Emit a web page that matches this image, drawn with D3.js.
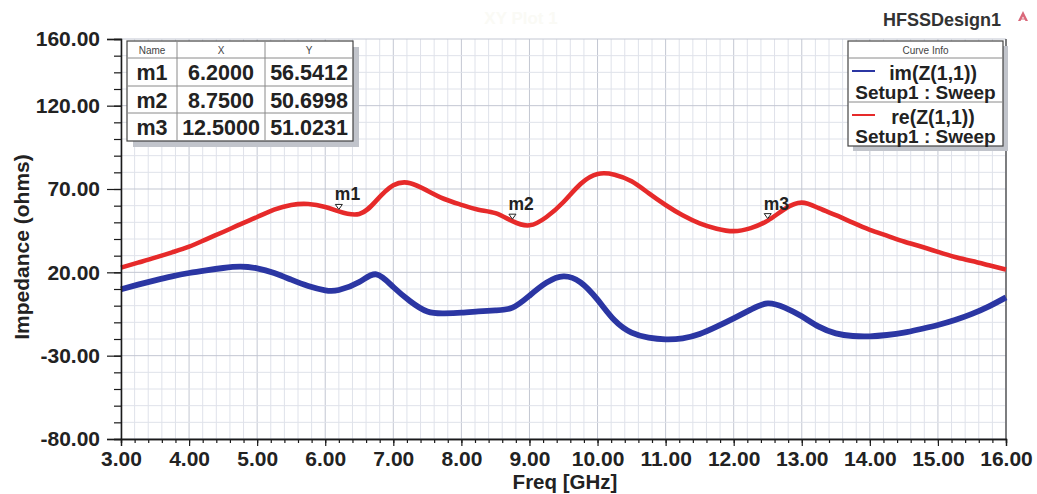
<!DOCTYPE html>
<html>
<head>
<meta charset="utf-8">
<script src="https://cdn.jsdelivr.net/npm/d3@7"></script>
<style>
  body { margin: 0; background: #ffffff; }
  svg { display: block; }
  text { font-family: "Liberation Sans", Arial, Helvetica, sans-serif; }
</style>
</head>
<body>
<svg id="chart" width="1037" height="494"></svg>
<script>
// Frequency sweep (GHz)
const freq = [3.00, 3.25, 3.50, 3.75, 4.00, 4.25, 4.50, 4.75, 5.00, 5.25, 5.50, 5.75, 6.00, 6.20,
  6.50, 6.75, 7.00, 7.25, 7.50, 7.75, 8.00, 8.25, 8.50, 8.75, 9.00, 9.25, 9.50, 9.75, 10.00,
  10.25, 10.50, 10.75, 11.00, 11.25, 11.50, 11.75, 12.00, 12.25, 12.50, 12.75, 13.00, 13.25,
  13.50, 13.75, 14.00, 14.25, 14.50, 14.75, 15.00, 15.25, 15.50, 15.75, 16.00];

// re(Z(1,1)) in ohms
const reZ = [22.8, 25.8, 28.8, 32.0, 35.4, 39.8, 44.2, 48.8, 53.2, 57.6, 60.4, 61.0, 59.2, 56.5412,
  55.0, 63.0, 72.2, 73.5, 69.0, 64.0, 60.5, 57.6, 55.5, 50.6998, 48.2, 53.2, 62.2, 73.0, 79.0,
  78.6, 74.6, 67.5, 60.4, 54.2, 49.4, 46.2, 44.7, 46.5, 51.0231, 58.0, 61.8, 58.5,
  54.3, 49.8, 45.5, 42.0, 38.5, 35.5, 32.3, 29.2, 26.8, 24.2, 21.6];

// im(Z(1,1)) in ohms
const imZ = [9.8, 12.6, 15.2, 17.6, 19.6, 21.2, 22.6, 23.4, 22.4, 19.6, 15.6, 11.8, 9.2, 9.4,
  14.2, 18.8, 11.2, 2.6, -3.5, -4.6, -4.2, -3.4, -2.8, -1.2, 6.0, 13.8, 17.6, 14.0, 3.6,
  -8.8, -16.2, -19.2, -20.2, -19.6, -17.0, -12.6, -7.6, -2.4, 1.4, -1.2, -6.4, -12.6,
  -16.6, -18.2, -18.4, -17.6, -16.2, -14.0, -11.6, -8.6, -4.9, -0.4, 5.0];

// Axis ticks
const xTicks = [3, 4, 5, 6, 7, 8, 9, 10, 11, 12, 13, 14, 15, 16];
const yTicks = [-80, -30, 20, 70, 120, 160];

// Markers placed on re(Z(1,1))
const markerNames = ["m1", "m2", "m3"];
const markerX = [6.2, 8.75, 12.5];
const markerY = [56.5412, 50.6998, 51.0231];

// Curve legend
const curveNames = ["im(Z(1,1))", "re(Z(1,1))"];
const curveSetups = ["Setup1 : Sweep", "Setup1 : Sweep"];
const curveColors = ["#2b36a3", "#e62a2a"];

const svg = d3.select("#chart");
const W = 1037, H = 494;
const plotL = 121, plotR = 1006, plotT = 39, plotB = 439;

svg.append("rect").attr("width", W).attr("height", H).attr("fill", "#ffffff");

const x = d3.scaleLinear().domain([3, 16]).range([plotL, plotR]);
const y = d3.scaleLinear().domain([-80, 160]).range([plotB, plotT]);

// Grid
const xMinor = d3.range(0, 66).map(i => +(3 + i * 0.2).toFixed(1));
const yMinor = d3.range(-80, 161, 10);
const grid = svg.append("g");
grid.selectAll("line.vx").data(xMinor).join("line")
  .attr("x1", d => x(d)).attr("x2", d => x(d))
  .attr("y1", plotT).attr("y2", plotB)
  .attr("stroke", d => Number.isInteger(d) ? "#c3c7d2" : "#dfe2ea")
  .attr("stroke-width", 1);
grid.selectAll("line.hy").data(yMinor).join("line")
  .attr("x1", plotL).attr("x2", plotR)
  .attr("y1", d => y(d)).attr("y2", d => y(d))
  .attr("stroke", d => yTicks.includes(d) ? "#c3c7d2" : "#dfe2ea")
  .attr("stroke-width", 1);

// Right border
svg.append("line").attr("x1", plotR).attr("x2", plotR).attr("y1", plotT).attr("y2", plotB)
  .attr("stroke", "#3a3a3a").attr("stroke-width", 1.2);

// Curves
const line = (vals) => d3.line()
  .x((d, i) => x(freq[i]))
  .y(d => y(d))
  .curve(d3.curveNatural)(vals);

svg.append("path").attr("d", line(imZ)).attr("fill", "none")
  .attr("stroke", curveColors[0]).attr("stroke-width", 5.8).attr("stroke-linejoin", "round");
svg.append("path").attr("d", line(reZ)).attr("fill", "none")
  .attr("stroke", curveColors[1]).attr("stroke-width", 4.6).attr("stroke-linejoin", "round");

// Axes
const axisStyle = g => {
  g.select(".domain").attr("stroke", "#1a1a1a").attr("stroke-width", 1.3);
  g.selectAll(".tick line").attr("stroke", "#1a1a1a").attr("stroke-width", 1.2);
  g.selectAll("text").attr("font-size", "21px").attr("font-weight", "bold").attr("fill", "#222");
};

svg.append("g").attr("transform", `translate(${plotL},0)`)
  .call(d3.axisLeft(y).tickValues(yMinor).tickSize(7).tickFormat(""))
  .call(axisStyle);
svg.append("g").attr("transform", `translate(${plotL},0)`)
  .call(d3.axisLeft(y).tickValues(yTicks).tickSize(14).tickPadding(7).tickFormat(d => d.toFixed(2)))
  .call(axisStyle);

svg.append("g").attr("transform", `translate(0,${plotB})`)
  .call(d3.axisBottom(x).tickValues(xMinor).tickSize(4).tickFormat(""))
  .call(axisStyle);
svg.append("g").attr("transform", `translate(0,${plotB})`)
  .call(d3.axisBottom(x).tickValues(xTicks).tickSize(7).tickPadding(5).tickFormat(d => d.toFixed(2)))
  .call(axisStyle);

// Axis titles
svg.append("text").attr("x", 565).attr("y", 489).attr("text-anchor", "middle")
  .attr("font-size", "20.5px").attr("font-weight", "bold").attr("fill", "#222").text("Freq [GHz]");
svg.append("text").attr("transform", "translate(29,247) rotate(-90)").attr("text-anchor", "middle")
  .attr("font-size", "21px").attr("font-weight", "bold").attr("fill", "#222").text("Impedance (ohms)");

// Plot title and design name
svg.append("text").attr("x", 521).attr("y", 24).attr("text-anchor", "middle")
  .attr("font-size", "17px").attr("font-weight", "bold").attr("fill", "#fafaf5").text("XY Plot 1");
svg.append("text").attr("x", 1001).attr("y", 26).attr("text-anchor", "end")
  .attr("font-size", "18px").attr("font-weight", "bold").attr("fill", "#333").text("HFSSDesign1");
// small application logo
svg.append("path").attr("d", "M1023,11 L1028,21 L1025.5,21 L1023,16.5 L1020.5,21 L1018,21 Z")
  .attr("fill", "#d9687a");
svg.append("line").attr("x1", 1020).attr("x2", 1026).attr("y1", 19).attr("y2", 19)
  .attr("stroke", "#d9687a").attr("stroke-width", 1);

// Markers on the re curve
const mk = svg.append("g");
markerX.forEach((mx, i) => {
  const px = x(mx), py = y(markerY[i]) - 2;
  mk.append("path")
    .attr("d", `M${px - 3.5},${py - 5} L${px + 3.5},${py - 5} L${px},${py} Z`)
    .attr("fill", "#ffffff").attr("stroke", "#222").attr("stroke-width", 1);
  mk.append("text").attr("x", px - 4).attr("y", py - 9)
    .attr("font-size", "17.5px").attr("font-weight", "bold").attr("fill", "#222")
    .text(markerNames[i]);
});

// Marker table
const tbl = svg.append("g");
const colX = [127, 177, 265, 353];
const rowY = [41, 58, 86, 113, 141];
tbl.append("rect").attr("x", colX[0] + 6).attr("y", rowY[0] + 6)
  .attr("width", colX[3] - colX[0]).attr("height", rowY[4] - rowY[0]).attr("fill", "#c1c4cb");
tbl.append("rect").attr("x", colX[0]).attr("y", rowY[0])
  .attr("width", colX[3] - colX[0]).attr("height", rowY[4] - rowY[0])
  .attr("fill", "#ffffff").attr("stroke", "#444").attr("stroke-width", 1.2);
colX.slice(1, 3).forEach(cx => tbl.append("line").attr("x1", cx).attr("x2", cx)
  .attr("y1", rowY[0]).attr("y2", rowY[4]).attr("stroke", "#8a8a8a"));
rowY.slice(1, 4).forEach(ry => tbl.append("line").attr("x1", colX[0]).attr("x2", colX[3])
  .attr("y1", ry).attr("y2", ry).attr("stroke", "#8a8a8a"));
["Name", "X", "Y"].forEach((h, j) => tbl.append("text")
  .attr("x", (colX[j] + colX[j + 1]) / 2).attr("y", rowY[0] + 12.5).attr("text-anchor", "middle")
  .attr("font-size", "10px").attr("fill", "#444").text(h));
markerNames.forEach((n, i) => {
  const cells = [n, markerX[i].toFixed(4), markerY[i].toFixed(4)];
  cells.forEach((c, j) => tbl.append("text")
    .attr("x", (colX[j] + colX[j + 1]) / 2).attr("y", rowY[i + 1] + 21.5).attr("text-anchor", "middle")
    .attr("font-size", "21.5px").attr("font-weight", "bold").attr("fill", "#222").text(c));
});

// Curve info legend
const lg = svg.append("g");
const lx0 = 848, lx1 = 1003, ly0 = 41, ly1 = 146;
lg.append("rect").attr("x", lx0 + 5).attr("y", ly0 + 5).attr("width", lx1 - lx0).attr("height", ly1 - ly0)
  .attr("fill", "#c1c4cb");
lg.append("rect").attr("x", lx0).attr("y", ly0).attr("width", lx1 - lx0).attr("height", ly1 - ly0)
  .attr("fill", "#ffffff").attr("stroke", "#444").attr("stroke-width", 1.2);
lg.append("line").attr("x1", lx0).attr("x2", lx1).attr("y1", 58).attr("y2", 58).attr("stroke", "#8a8a8a");
lg.append("line").attr("x1", lx0).attr("x2", lx1).attr("y1", 102).attr("y2", 102).attr("stroke", "#8a8a8a");
lg.append("text").attr("x", (lx0 + lx1) / 2).attr("y", 53.5).attr("text-anchor", "middle")
  .attr("font-size", "10px").attr("fill", "#444").text("Curve Info");
curveNames.forEach((n, i) => {
  const oy = 44 * i;
  lg.append("line").attr("x1", 852).attr("x2", 875).attr("y1", 71 + oy).attr("y2", 71 + oy)
    .attr("stroke", curveColors[i]).attr("stroke-width", 2);
  lg.append("text").attr("x", 933).attr("y", 80 + oy).attr("text-anchor", "middle")
    .attr("font-size", "19.5px").attr("font-weight", "bold").attr("fill", "#222").text(n);
  lg.append("text").attr("x", 925.5).attr("y", 99 + oy).attr("text-anchor", "middle")
    .attr("font-size", "19px").attr("font-weight", "bold").attr("fill", "#222").text(curveSetups[i]);
});
</script>
</body>
</html>
